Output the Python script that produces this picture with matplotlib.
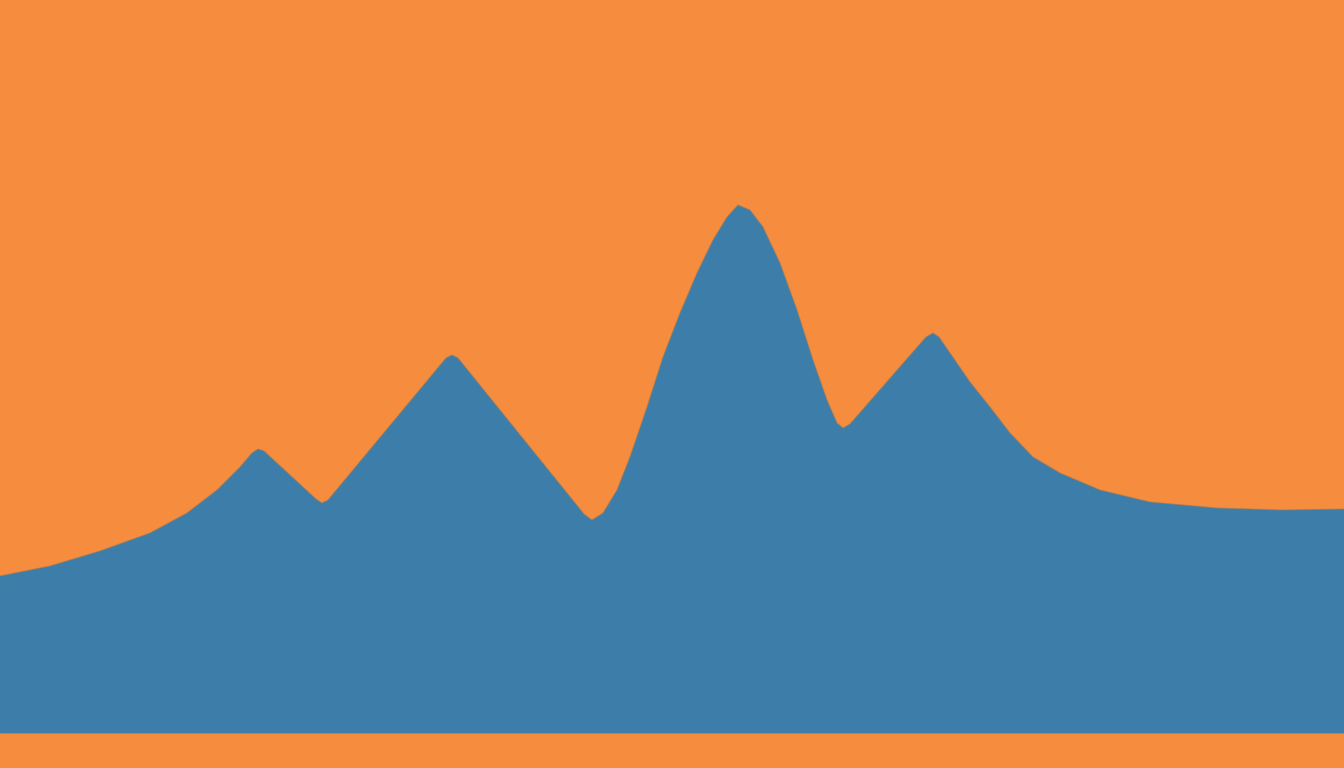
import matplotlib
matplotlib.use("Agg")
import matplotlib.pyplot as plt

# colores
naranja = "#F68C3E"
azul = "#3D7DAA"

# perfil del area: posicion horizontal y altura sobre la base
x = [0, 50, 100, 150, 187, 217, 240, 252, 258, 264,
     316, 322, 328, 446, 452, 458, 584, 592, 603, 617,
     630, 647, 663, 680, 697, 713, 727, 738, 750, 763,
     780, 797, 813, 827, 837, 843, 850, 926, 933, 939,
     970, 990, 1010, 1033, 1060, 1100, 1150, 1217, 1283, 1344]
altura = [157, 167, 182, 200, 220, 243, 266, 280, 284, 282,
          234, 230, 233, 375, 378, 375, 219, 213, 220, 243,
          276, 326, 376, 420, 460, 493, 516, 528, 523, 506,
          470, 423, 373, 333, 310, 305, 309, 396, 400, 396,
          351, 326, 300, 276, 260, 243, 231, 225, 223, 224]

fig = plt.figure(figsize=(13.44, 7.68), dpi=100)
fig.patch.set_facecolor(naranja)
ax = fig.add_axes([0, 0, 1, 1])
ax.set_facecolor(naranja)

ax.fill_between(x, 0, altura, color=azul, linewidth=0)
ax.plot(x, altura, color="#9a7e5c", linewidth=0.8, alpha=0.6)
ax.axhline(0, color="#9a7e5c", linewidth=0.8, alpha=0.6)

ax.set_xlim(0, 1344)
ax.set_ylim(-35, 733)
ax.axis("off")

fig.savefig("out.png", dpi=100, facecolor=naranja)
